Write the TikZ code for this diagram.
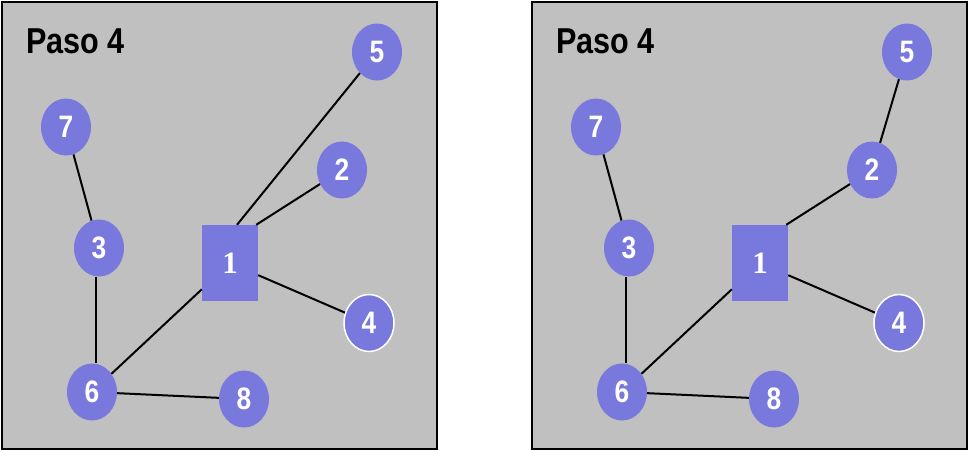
\documentclass[tikz,border=0pt]{standalone}
\usepackage{fontspec}
\usetikzlibrary{shapes.geometric}
\newfontfamily\labfont{Liberation Sans}[FakeStretch=0.85]
\newfontfamily\rootfont{Liberation Serif}
\definecolor{nodeblue}{RGB}{121,121,221}
\definecolor{panelgray}{RGB}{192,192,192}
\tikzset{
  panel/.style={draw=black, line width=2pt, fill=panelgray},
  vert/.style={ellipse, fill=nodeblue, minimum width=50pt, minimum height=57pt, inner sep=0pt,
     text=white, font=\labfont\bfseries\fontsize{31}{31}\selectfont},
  rootv/.style={rectangle, fill=nodeblue, minimum width=56pt, minimum height=76pt, inner sep=0pt,
     text=white, font=\rootfont\bfseries\fontsize{31}{31}\selectfont},
  marked/.style={draw=white, line width=1.5pt},
  title/.style={anchor=base west, inner sep=0pt, font=\labfont\bfseries\fontsize{36}{36}\selectfont},
  edge/.style={draw=black, line width=2pt}
}
\begin{document}
\begin{tikzpicture}[x=1pt, y=-1pt]
\useasboundingbox (0,0) rectangle (968,450);
% left panel
\begin{scope}
\node[panel, minimum width=435pt, minimum height=447pt, anchor=north west, inner sep=0pt] (pa) at (1,1) {};
\node[title] (ta) at (26,53) {Paso 4};
\node[vert] (a5) at (377,52) {5};
\node[vert] (a7) at (66,127) {7};
\node[vert] (a2) at (342,170) {2};
\node[vert] (a3) at (99,248) {3};
\node[rootv] (a1) at (230,263) {1};
\node[vert, marked] (a4) at (369,323) {4};
\node[vert] (a6) at (92,392) {6};
\node[vert] (a8) at (244,399) {8};
\draw[edge] (a5) -- ([xshift=7pt]a1.north);
\draw[edge] (a2) -- ([xshift=-2pt]a1.north east);
\draw[edge] (a1) -- (a4);
\draw[edge] (a1) -- (a6);
\draw[edge] (a7) -- (a3);
\draw[edge] ([xshift=-3pt]a3.south) -- ([xshift=4pt]a6.north);
\draw[edge] (a6) -- (a8);
\end{scope}
% right panel
\begin{scope}
\node[panel, minimum width=435pt, minimum height=447pt, anchor=north west, inner sep=0pt] (pb) at (531,1) {};
\node[title] (tb) at (556,53) {Paso 4};
\node[vert] (b5) at (907,52) {5};
\node[vert] (b7) at (596,127) {7};
\node[vert] (b2) at (872,170) {2};
\node[vert] (b3) at (629,248) {3};
\node[rootv] (b1) at (760,263) {1};
\node[vert, marked] (b4) at (899,323) {4};
\node[vert] (b6) at (622,392) {6};
\node[vert] (b8) at (774,399) {8};
\draw[edge] (b5) -- (b2);
\draw[edge] (b2) -- ([xshift=-2pt]b1.north east);
\draw[edge] (b1) -- (b4);
\draw[edge] (b1) -- (b6);
\draw[edge] (b7) -- (b3);
\draw[edge] ([xshift=-3pt]b3.south) -- ([xshift=4pt]b6.north);
\draw[edge] (b6) -- (b8);
\end{scope}
\end{tikzpicture}
\end{document}
